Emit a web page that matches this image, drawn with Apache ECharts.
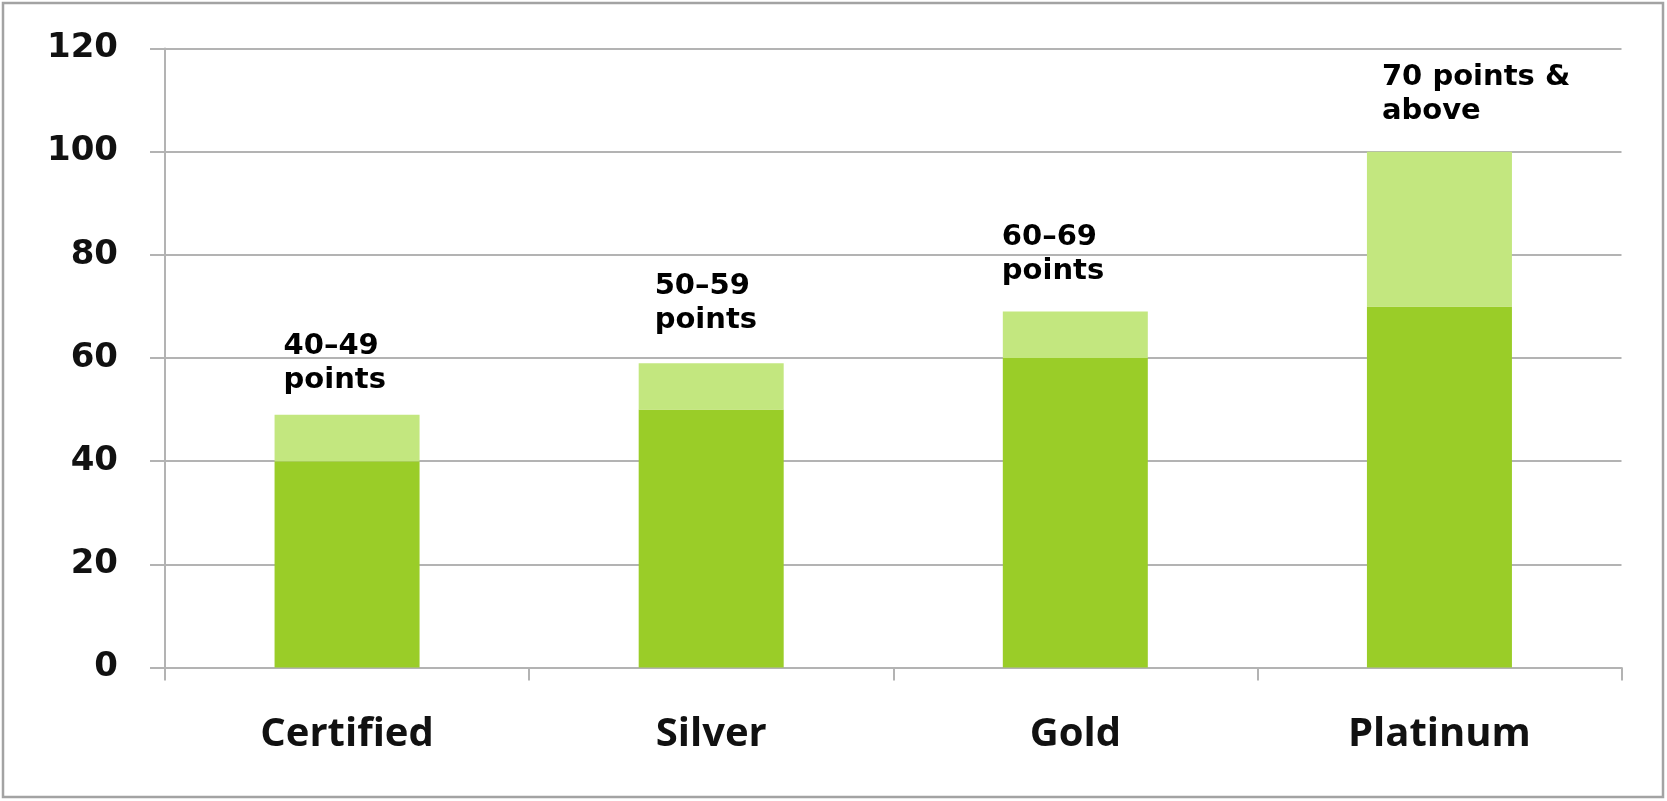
<!DOCTYPE html>
<html>
<head>
<meta charset="utf-8">
<script src="https://cdn.jsdelivr.net/npm/echarts@6/dist/echarts.min.js"></script>
<style>
  html, body { margin: 0; padding: 0; background: #ffffff; }
  #chart { width: 1667px; height: 801px; }
</style>
</head>
<body>
<div id="chart"></div>
<script>
// Certification levels and their point ranges
const categories = ['Certified', 'Silver', 'Gold', 'Platinum'];
const baseValues = [40, 50, 60, 70];      // lower bound of each range
const rangeSpans = [9, 9, 9, 30];         // extra span up to the upper bound
const rangeLabels = ['40–49\npoints', '50–59\npoints', '60–69\npoints', '70 points &\nabove'];
const yMin = 0, yMax = 120, yStep = 20;

// Label placement relative to each bar's top-left corner
const labelShift = [[9, -17], [16, -26], [-1, -23], [15, -23]];

const GRID_GREY = '#b3b3b3';
const DARK_GREEN = '#9acd28';
const LIGHT_GREEN = '#c3e77f';

const chart = echarts.init(document.getElementById('chart'));

const upperData = rangeSpans.map((v, i) => ({
  value: v,
  label: {
    show: true,
    formatter: rangeLabels[i],
    position: labelShift[i],
    align: 'left',
    verticalAlign: 'bottom'
  }
}));

chart.setOption({
  animation: false,
  backgroundColor: '#ffffff',
  graphic: [{
    type: 'rect',
    shape: { x: 3, y: 3, width: 1660, height: 794 },
    style: { fill: 'none', stroke: '#a3a3a3', lineWidth: 2.5 },
    silent: true,
    z: 100
  }],
  grid: { left: 165, right: 45.5, top: 48.5, bottom: 133.5, containLabel: false },
  xAxis: {
    type: 'category',
    data: categories,
    boundaryGap: true,
    axisLine: { show: true, lineStyle: { color: GRID_GREY, width: 2 } },
    axisTick: { show: true, length: 13, interval: 0, alignWithLabel: false, lineStyle: { color: GRID_GREY, width: 2 } },
    axisLabel: {
      margin: 47,
      color: '#111',
      fontFamily: 'Open Sans',
      fontWeight: 'bold',
      fontSize: 40
    },
    splitLine: { show: false }
  },
  yAxis: {
    type: 'value',
    min: yMin,
    max: yMax,
    interval: yStep,
    axisLine: { show: true, lineStyle: { color: GRID_GREY, width: 2 } },
    axisTick: { show: true, length: 15, lineStyle: { color: GRID_GREY, width: 2 } },
    axisLabel: {
      margin: 47,
      color: '#111',
      fontFamily: 'DejaVu Sans',
      fontWeight: 'bold',
      fontSize: 34
    },
    splitLine: { show: true, lineStyle: { color: GRID_GREY, width: 2 } }
  },
  series: [
    {
      name: 'Lower bound',
      type: 'bar',
      stack: 'range',
      barWidth: 145,
      data: baseValues,
      itemStyle: { color: DARK_GREEN },
      label: { show: false }
    },
    {
      name: 'Range',
      type: 'bar',
      stack: 'range',
      barWidth: 145,
      data: upperData,
      itemStyle: { color: LIGHT_GREEN },
      label: {
        color: '#000',
        fontFamily: 'DejaVu Sans',
        fontWeight: 'bold',
        fontSize: 29,
        lineHeight: 34
      }
    }
  ]
});
</script>
</body>
</html>
